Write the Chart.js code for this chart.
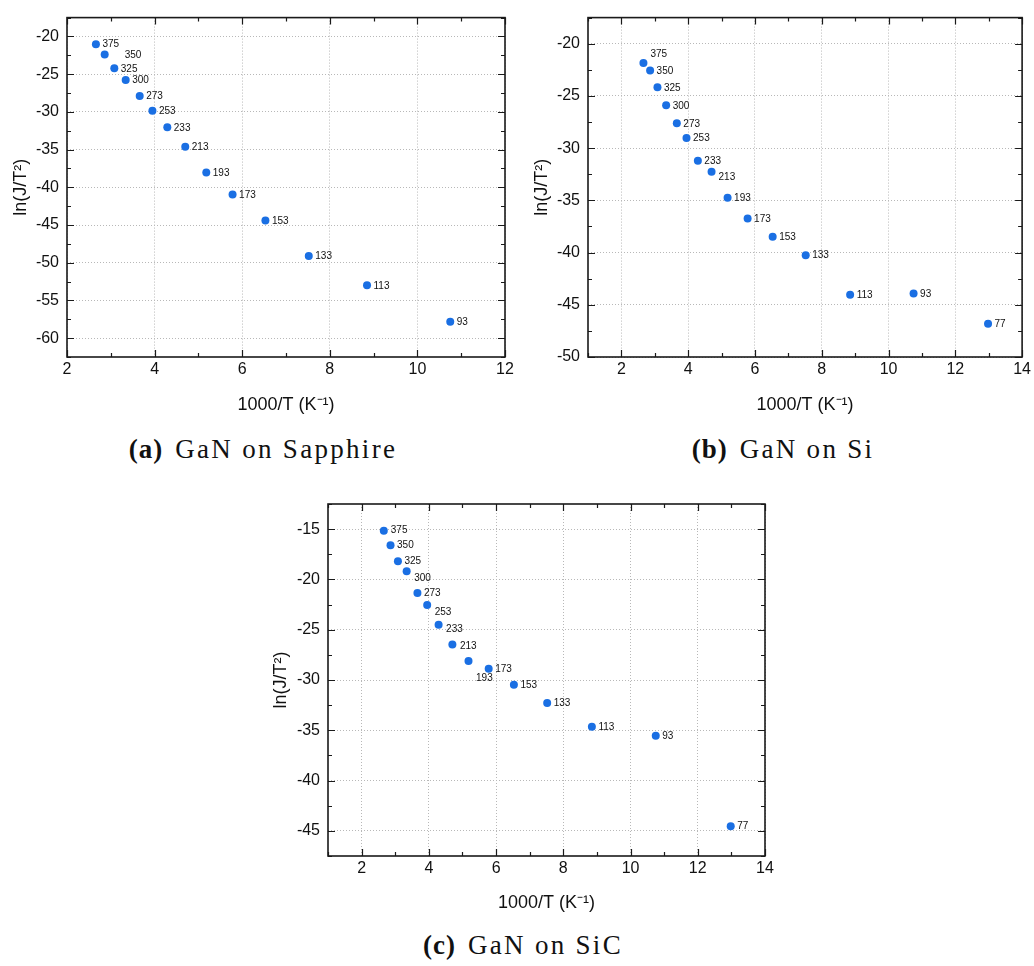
<!DOCTYPE html>
<html>
<head>
<meta charset="utf-8">
<script src="https://cdn.jsdelivr.net/npm/chart.js@4.4.0/dist/chart.umd.min.js"></script>
<style>
  body { margin: 0; background: #fff; width: 1034px; height: 966px; position: relative; overflow: hidden; }
  canvas { position: absolute; }
  .cap { position: absolute; font-family: "Liberation Serif", "DejaVu Serif", serif; font-size: 27px; letter-spacing: 2.3px; line-height: 30px; color: #111; white-space: nowrap; transform: translateX(-50%); }
  .cap b { margin-right: 12px; letter-spacing: 1px; }
</style>
</head>
<body>
<canvas id="graficoA" width="520" height="420" style="left:0px;top:0px"></canvas>
<canvas id="graficoB" width="514" height="420" style="left:520px;top:0px"></canvas>
<canvas id="graficoC" width="520" height="440" style="left:260px;top:480px"></canvas>
<div class="cap" style="left:263px;top:434px"><b>(a)</b>GaN on Sapphire</div>
<div class="cap" style="left:783px;top:434px"><b>(b)</b>GaN on Si</div>
<div class="cap" style="left:523px;top:930px"><b>(c)</b>GaN on SiC</div>

<script>
// temperatures (K) written next to each point
const temps = [375, 350, 325, 300, 273, 253, 233, 213, 193, 173, 153, 133, 113, 93, 77];
// 1000/T
const invT = [2.66, 2.86, 3.08, 3.34, 3.66, 3.95, 4.29, 4.70, 5.18, 5.78, 6.53, 7.52, 8.85, 10.75, 12.98];

// ln(J/T^2) for each sample
const lnSapphire = [-21.02, -22.39, -24.23, -25.76, -27.90, -29.86, -32.04, -34.64, -38.05, -40.96, -44.41, -49.11, -52.99, -57.81];
const lnSi = [-21.85, -22.56, -24.17, -25.90, -27.62, -29.04, -31.20, -32.25, -34.75, -36.73, -38.49, -40.25, -44.04, -43.92, -46.82];
const lnSiC = [-15.17, -16.60, -18.19, -19.19, -21.35, -22.55, -24.51, -26.47, -28.10, -28.87, -30.46, -32.29, -34.65, -35.55, -44.53];

// tick labels
const xTicksA = [2, 4, 6, 8, 10, 12];
const xTicksBC = [2, 4, 6, 8, 10, 12, 14];
const yTicksA = [-60, -55, -50, -45, -40, -35, -30, -25, -20];
const yTicksB = [-50, -45, -40, -35, -30, -25, -20];
const yTicksC = [-45, -40, -35, -30, -25, -20, -15];

const corPonto = '#1a6fe3';
const fonteTick = { family: '"Liberation Sans", Arial, sans-serif', size: 16 };
const fonteTitulo = { family: '"Liberation Sans", Arial, sans-serif', size: 18 };

// frame + inward major/minor ticks on all four sides
const molduraPlugin = {
    id: 'moldura',
    afterDraw(chart) {
        const ctx = chart.ctx;
        const a = chart.chartArea;
        const x = chart.scales.x, y = chart.scales.y;
        ctx.save();
        ctx.strokeStyle = '#1a1a1a';
        ctx.lineWidth = 1.2;
        ctx.beginPath();
        for (let v = Math.ceil(x.min); v <= x.max + 1e-9; v += 1) {
            const px = Math.round(x.getPixelForValue(v)) + 0.5;
            const len = (v % 2 === 0) ? 7 : 4;
            ctx.moveTo(px, a.bottom); ctx.lineTo(px, a.bottom - len);
            ctx.moveTo(px, a.top); ctx.lineTo(px, a.top + len);
        }
        for (let v = Math.ceil(y.min / 2.5) * 2.5; v <= y.max + 1e-9; v += 2.5) {
            const py = Math.round(y.getPixelForValue(v)) + 0.5;
            const len = (Math.abs(v % 5) < 1e-6) ? 7 : 4;
            ctx.moveTo(a.left, py); ctx.lineTo(a.left + len, py);
            ctx.moveTo(a.right, py); ctx.lineTo(a.right - len, py);
        }
        ctx.stroke();
        ctx.lineWidth = 1.6;
        ctx.strokeRect(a.left, a.top, a.right - a.left, a.bottom - a.top);
        ctx.restore();
    }
};

function montaGrafico(id, xs, ys, xTicks, yTicks, cfg) {
    const rotulos = {
        id: 'rotulos',
        afterDatasetsDraw(chart) {
            const ctx = chart.ctx;
            const pts = chart.getDatasetMeta(0).data;
            ctx.save();
            ctx.font = '10px "Liberation Sans", Arial, sans-serif';
            ctx.fillStyle = '#111';
            ctx.textAlign = 'left';
            ctx.textBaseline = 'middle';
            pts.forEach(function (p, i) {
                const off = cfg.desloc[temps[i]] || [6.5, 0.5];
                ctx.fillText(String(temps[i]), p.x + off[0], p.y + off[1]);
            });
            ctx.restore();
        }
    };

    return new Chart(document.getElementById(id), {
        type: 'scatter',
        data: {
            datasets: [{
                data: xs.map((v, i) => ({ x: v, y: ys[i] })),
                backgroundColor: corPonto,
                borderWidth: 0,
                pointRadius: 4,
                pointHoverRadius: 4
            }]
        },
        options: {
            responsive: false,
            animation: false,
            devicePixelRatio: 1,
            layout: { padding: cfg.padding },
            plugins: {
                legend: { display: false },
                tooltip: { enabled: false }
            },
            scales: {
                x: {
                    type: 'linear',
                    min: cfg.xMin, max: cfg.xMax,
                    afterBuildTicks: s => { s.ticks = xTicks.map(v => ({ value: v })); },
                    afterFit: s => { s.height = cfg.xAltura; },
                    grid: { color: '#b8b8b8', lineWidth: 1, drawTicks: false },
                    border: { display: false, dash: [1, 2] },
                    ticks: { autoSkip: false, maxRotation: 0, padding: 3, color: '#111', font: fonteTick },
                    title: { display: true, text: '1000/T (K⁻¹)', color: '#111', font: fonteTitulo, padding: { top: 0, bottom: cfg.xTitPad } }
                },
                y: {
                    type: 'linear',
                    min: cfg.yMin, max: cfg.yMax,
                    afterBuildTicks: s => { s.ticks = yTicks.map(v => ({ value: v })); },
                    afterFit: s => { s.width = cfg.yLargura; },
                    grid: { color: '#b8b8b8', lineWidth: 1, drawTicks: false },
                    border: { display: false, dash: [1, 2] },
                    ticks: { autoSkip: false, padding: 8, color: '#111', font: fonteTick },
                    title: { display: true, text: 'ln(J/T²)', color: '#111', font: fonteTitulo, padding: { top: cfg.yTitPad, bottom: 0 } }
                }
            }
        },
        plugins: [molduraPlugin, rotulos]
    });
}

montaGrafico('graficoA', invT.slice(0, 14), lnSapphire, xTicksA, yTicksA, {
    xMin: 2, xMax: 12, yMin: -62.5, yMax: -17.5,
    padding: { top: 5, right: 15, left: 0, bottom: 0 },
    xAltura: 63, yLargura: 67, xTitPad: 4, yTitPad: 10,
    desloc: { 350: [20, 0.5] }
});

montaGrafico('graficoB', invT, lnSi, xTicksBC, yTicksB, {
    xMin: 1, xMax: 14, yMin: -50, yMax: -17.5,
    padding: { top: 5, right: 9, left: 0, bottom: 0 },
    xAltura: 63, yLargura: 68, xTitPad: 4, yTitPad: 11,
    desloc: { 375: [7, -8.5], 213: [7, 5.5] }
});

montaGrafico('graficoC', invT, lnSiC, xTicksBC, yTicksC, {
    xMin: 1, xMax: 14, yMin: -47.5, yMax: -12.5,
    padding: { top: 24, right: 15, left: 0, bottom: 0 },
    xAltura: 64, yLargura: 68, xTitPad: 6, yTitPad: 10,
    desloc: { 375: [7, -1], 300: [7.5, 7], 253: [7.5, 7], 233: [7.5, 4], 213: [7.5, 1.5], 193: [7.5, 17.5] }
});
</script>
</body>
</html>
